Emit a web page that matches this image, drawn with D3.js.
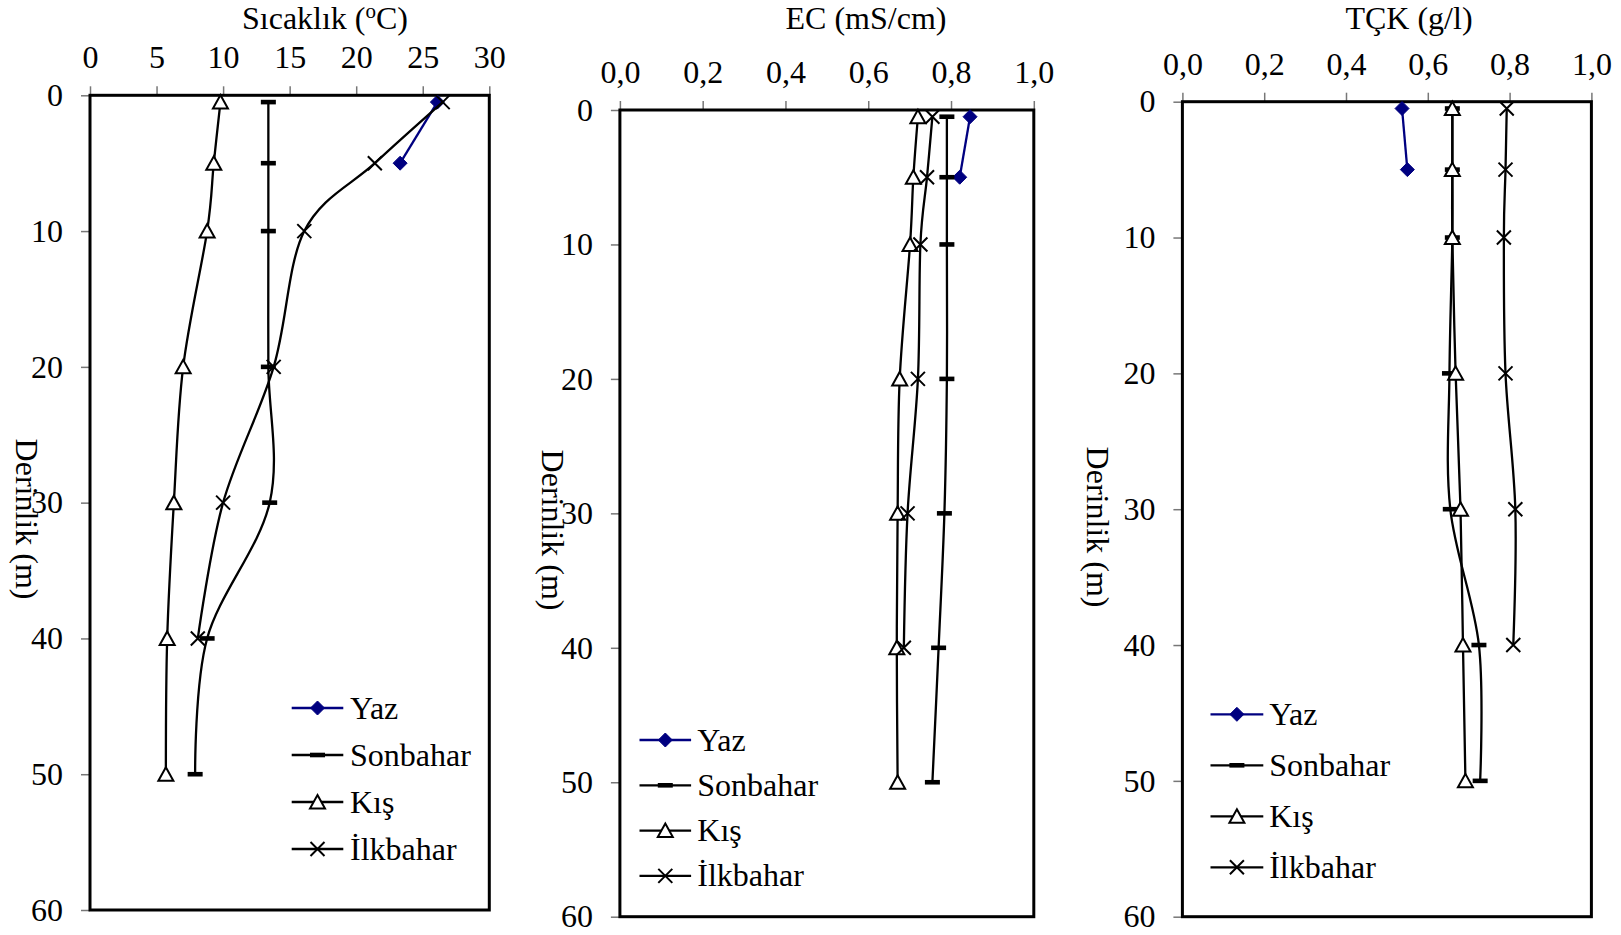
<!DOCTYPE html>
<html>
<head>
<meta charset="utf-8">
<script src="https://cdn.jsdelivr.net/npm/d3@7"></script>
<style>
  html, body { margin: 0; padding: 0; background: #fff; }
  svg { display: block; font-family: "Liberation Serif", "Times New Roman", serif; }
</style>
</head>
<body>
<svg id="chart" width="1621" height="935"></svg>
<script>
// Sampling depths (m)
const depths = [0.5, 5, 10, 20, 30, 40, 50];
const seasons = ["Yaz", "Sonbahar", "Kış", "İlkbahar"];

// Temperature (°C)
const yazT      = [26.1, 23.3];
const sonbaharT = [13.4, 13.4, 13.4, 13.4, 13.5, 8.8, 7.9];
const kisT      = [9.8, 9.3, 8.8, 7.0, 6.3, 5.8, 5.7];
const ilkbaharT = [26.5, 21.4, 16.1, 13.8, 10.0, 8.1];

// Electrical conductivity (mS/cm)
const yazEC      = [0.846, 0.821];
const sonbaharEC = [0.79, 0.79, 0.79, 0.79, 0.784, 0.77, 0.755];
const kisEC      = [0.72, 0.709, 0.701, 0.676, 0.671, 0.669, 0.671];
const ilkbaharEC = [0.755, 0.742, 0.726, 0.72, 0.695, 0.686];

// Total dissolved solids (g/l)
const yazTDS      = [0.537, 0.55];
const sonbaharTDS = [0.66, 0.66, 0.66, 0.653, 0.655, 0.725, 0.728];
const kisTDS      = [0.66, 0.66, 0.66, 0.668, 0.68, 0.686, 0.692];
const ilkbaharTDS = [0.793, 0.79, 0.786, 0.79, 0.814, 0.809];

// Axis ticks
const tempTicks = [0, 5, 10, 15, 20, 25, 30];
const fracTicks = [0, 0.2, 0.4, 0.6, 0.8, 1.0];
const depthTicks = [0, 10, 20, 30, 40, 50, 60];

const commaFmt = d3.formatLocale({decimal: ",", thousands: ".", grouping: [3], currency: ["", ""]}).format(".1f");

const panels = [
  { title: "Sıcaklık (", sup: "o", titleEnd: "C)", titleX: 325, domain: [0, 30], ticks: tempTicks, fmt: d3.format("d"),
    box: {l: 90, r: 489.3, t: 95.3, b: 910}, yTitle: {x: 27, y: 519},
    legend: {x0: 291.7, x1: 343.3, tx: 350, y0: 708, dy: 47},
    series: [yazT, sonbaharT, kisT, ilkbaharT] },
  { title: "EC (mS/cm)", titleX: 866, domain: [0, 1], ticks: fracTicks, fmt: commaFmt,
    box: {l: 619.9, r: 1033.8, t: 110, b: 916.7}, yTitle: {x: 552.7, y: 530},
    legend: {x0: 639.5, x1: 691.1, tx: 697.3, y0: 740, dy: 45.3},
    series: [yazEC, sonbaharEC, kisEC, ilkbaharEC] },
  { title: "TÇK (g/l)", titleX: 1409, domain: [0, 1], ticks: fracTicks, fmt: commaFmt,
    box: {l: 1182.4, r: 1591.4, t: 101.7, b: 916.7}, yTitle: {x: 1098, y: 527},
    legend: {x0: 1210.5, x1: 1263.3, tx: 1269.2, y0: 714.3, dy: 51},
    series: [yazTDS, sonbaharTDS, kisTDS, ilkbaharTDS] }
];

const styles = [
  { color: "#000080", marker: "diamond" },
  { color: "#000000", marker: "dash" },
  { color: "#000000", marker: "triangle" },
  { color: "#000000", marker: "cross" }
];

const svg = d3.select("#chart");

function drawMarker(g, type, color) {
  if (type === "diamond") {
    g.append("path").attr("d", "M0,-7L7,0L0,7L-7,0Z").attr("fill", color).attr("stroke", color).attr("stroke-width", 1);
  } else if (type === "dash") {
    g.append("rect").attr("x", -7.5).attr("y", -2.3).attr("width", 15).attr("height", 4.6).attr("fill", color);
  } else if (type === "triangle") {
    g.append("path").attr("d", "M0,-7L7.5,6.5L-7.5,6.5Z").attr("fill", "#fff").attr("stroke", color).attr("stroke-width", 2);
  } else if (type === "cross") {
    g.append("path").attr("d", "M-7,-7L7,7M-7,7L7,-7").attr("fill", "none").attr("stroke", color).attr("stroke-width", 2);
  }
}

panels.forEach(p => {
  const x = d3.scaleLinear().domain(p.domain).range([p.box.l, p.box.r]);
  const y = d3.scaleLinear().domain([0, 60]).range([p.box.t, p.box.b]);
  const g = svg.append("g");

  // axes
  const ax = g.append("g").attr("transform", `translate(0,${p.box.t})`)
    .call(d3.axisTop(x).tickValues(p.ticks).tickFormat(p.fmt).tickSize(9).tickPadding(18));
  const ay = g.append("g").attr("transform", `translate(${p.box.l},0)`)
    .call(d3.axisLeft(y).tickValues(depthTicks).tickFormat(d3.format("d")).tickSize(9).tickPadding(18));
  [ax, ay].forEach(a => {
    a.select(".domain").remove();
    a.selectAll(".tick line").attr("stroke", "#777").attr("stroke-width", 1.5);
    a.selectAll(".tick text").attr("font-size", 32).attr("fill", "#000")
      .style("font-family", '"Liberation Serif", "Times New Roman", serif');
  });

  // frame
  g.append("rect").attr("x", p.box.l).attr("y", p.box.t)
    .attr("width", p.box.r - p.box.l).attr("height", p.box.b - p.box.t)
    .attr("fill", "none").attr("stroke", "#000").attr("stroke-width", 3);

  // title
  const t = g.append("text").attr("x", p.titleX).attr("y", 29).attr("text-anchor", "middle").attr("font-size", 32);
  t.append("tspan").text(p.title);
  if (p.sup) {
    t.append("tspan").attr("font-size", 21).attr("dy", -11).text(p.sup);
    t.append("tspan").attr("dy", 11).text(p.titleEnd);
  }

  // y-axis title
  g.append("text").attr("transform", `translate(${p.yTitle.x},${p.yTitle.y}) rotate(90)`)
    .attr("text-anchor", "middle").attr("dominant-baseline", "central").attr("font-size", 32)
    .text("Derinlik (m)");

  // series
  const line = d3.line().x(d => x(d[1])).y(d => y(d[0])).curve(d3.curveCatmullRom.alpha(0));
  p.series.forEach((vals, i) => {
    const pts = vals.map((v, k) => [depths[k], v]);
    const st = styles[i];
    g.append("path").attr("d", line(pts)).attr("fill", "none")
      .attr("stroke", st.color).attr("stroke-width", 2.3);
    pts.forEach(d => {
      const m = g.append("g").attr("transform", `translate(${x(d[1])},${y(d[0])})`);
      drawMarker(m, st.marker, st.color);
    });
  });

  // legend
  seasons.forEach((name, i) => {
    const ly = p.legend.y0 + i * p.legend.dy;
    const st = styles[i];
    g.append("line").attr("x1", p.legend.x0).attr("x2", p.legend.x1).attr("y1", ly).attr("y2", ly)
      .attr("stroke", st.color).attr("stroke-width", 2.3);
    const m = g.append("g").attr("transform", `translate(${(p.legend.x0 + p.legend.x1) / 2},${ly})`);
    drawMarker(m, st.marker, st.color);
    g.append("text").attr("x", p.legend.tx).attr("y", ly + 10.5).attr("font-size", 32).text(name);
  });
});
</script>
</body>
</html>
